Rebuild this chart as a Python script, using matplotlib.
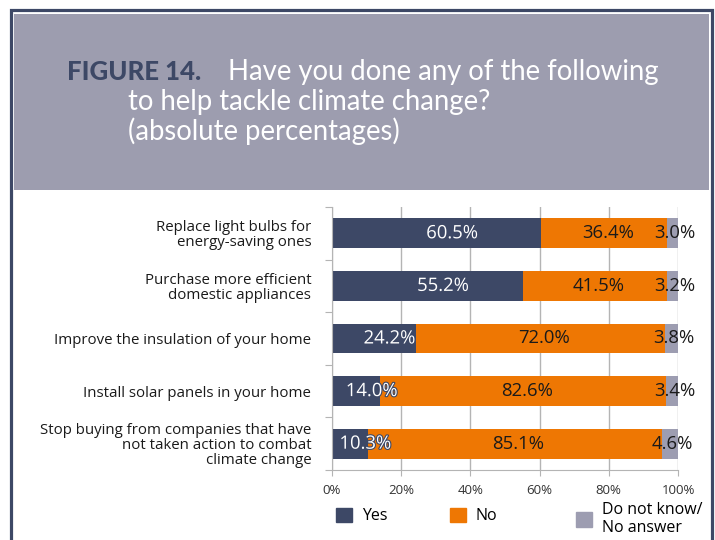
import numpy as np
import matplotlib.pyplot as plt
from matplotlib.patches import Rectangle, Patch
import matplotlib.patheffects as pe

plt.rcParams['font.family'] = ['Open Sans', 'DejaVu Sans']

# survey answers, top row first
actions = [
    "Replace light bulbs for\nenergy-saving ones",
    "Purchase more efficient\ndomestic appliances",
    "Improve the insulation of your home",
    "Install solar panels in your home",
    "Stop buying from companies that have\nnot taken action to combat\nclimate change",
]
yes = [60.5, 55.2, 24.2, 14.0, 10.3]
no = [36.4, 41.5, 72.0, 82.6, 85.1]
dont_know = [3.0, 3.2, 3.8, 3.4, 4.6]
answer_names = ["Yes", "No", "Do not know/\nNo answer"]
x_ticks = [0, 20, 40, 60, 80, 100]

navy = "#3d4866"
orange = "#ee7703"
grey = "#9d9db1"
header = "#9d9daf"
axis_grey = "#b4b4b4"
ink = "#1a1a1a"

W, H = 715, 540
fx = lambda px: px / W
fy = lambda py: 1 - py / H

fig = plt.figure(figsize=(W / 100, H / 100), dpi=100)

# page frame and title banner
fig.patches.append(Rectangle((fx(14), fy(190)), (709 - 14) / W, (190 - 14) / H,
                             transform=fig.transFigure, fc=header, ec="none", zorder=0))
fig.patches.append(Rectangle((fx(11.5), fy(600)), 700 / W, 590 / H,
                             transform=fig.transFigure, fill=False, ec=navy, lw=2.3, zorder=1))

title_font = ["Lato", "DejaVu Sans"]
fig.text(fx(67), fy(80), "FIGURE 14.", color=navy, size=18.5, weight="black",
         family=title_font, va="baseline")
fig.text(fx(228), fy(80), "Have you done any of the following", color="white",
         size=19.8, family=title_font, va="baseline")
fig.text(fx(128), fy(110), "to help tackle climate change?", color="white",
         size=19.8, family=title_font, va="baseline")
fig.text(fx(128), fy(140), "(absolute percentages)", color="white",
         size=19.8, family=title_font, va="baseline")

ax = fig.add_axes([fx(332), fy(470), 346 / W, 263 / H])
y = np.arange(len(actions))
yes_a, no_a, dk_a = np.array(yes), np.array(no), np.array(dont_know)
bar_h = 0.57
ax.barh(y, yes_a, height=bar_h, color=navy, zorder=2)
ax.barh(y, no_a, left=yes_a, height=bar_h, color=orange, zorder=2)
ax.barh(y, dk_a, left=yes_a + no_a, height=bar_h, color=grey, zorder=2)

outline = [pe.withStroke(linewidth=1.6, foreground=navy)]
for i in y:
    ax.text(yes_a[i] / 2 + 4.5, i, f"{yes_a[i]:.1f}%", color="white", size=13.3,
            ha="center", va="center", zorder=4, path_effects=outline)
    ax.text(yes_a[i] + no_a[i] / 2 + 1, i, f"{no_a[i]:.1f}%", color=ink,
            size=13.3, ha="center", va="center", zorder=4)
    ax.text(yes_a[i] + no_a[i] + dk_a[i] / 2 + 0.8, i, f"{dk_a[i]:.1f}%",
            color=ink, size=13.3, ha="center", va="center", zorder=4)

ax.set_xlim(0, 100)
ax.set_ylim(len(actions) - 0.5, -0.5)
ax.set_xticks(x_ticks)
ax.set_xticklabels([f"{t}%" for t in x_ticks])
ax.set_yticks(np.arange(-0.5, len(actions), 1.0))
ax.set_yticklabels([])
ax.set_yticks(y, minor=True)
ax.set_yticklabels(actions, minor=True, linespacing=1.0)
ax.tick_params(axis="y", which="minor", length=0, pad=15, labelsize=10.8,
               labelcolor=ink)
ax.tick_params(axis="y", which="major", length=5, color=axis_grey)
ax.tick_params(axis="x", length=4, color=axis_grey, pad=6, labelsize=9.5,
               labelcolor="#333333")
ax.grid(axis="x", color=axis_grey, lw=1)
ax.set_axisbelow(True)
for side in ("top", "right"):
    ax.spines[side].set_visible(False)
for side in ("left", "bottom"):
    ax.spines[side].set_color(axis_grey)

# one legend entry per answer so each can sit where it belongs
legend_x = [325, 439, 565]
legend_y = [516, 516, 519]
for name, c, lx, ly in zip(answer_names, (navy, orange, grey), legend_x, legend_y):
    fig.legend([Patch(color=c)], [name], loc="center left",
               bbox_to_anchor=(fx(lx), fy(ly)), frameon=False, fontsize=11.5,
               handlelength=1.0, handleheight=1.0, handletextpad=0.6,
               labelspacing=0.2, borderpad=0.2)

fig.savefig("out.png", dpi=100)
